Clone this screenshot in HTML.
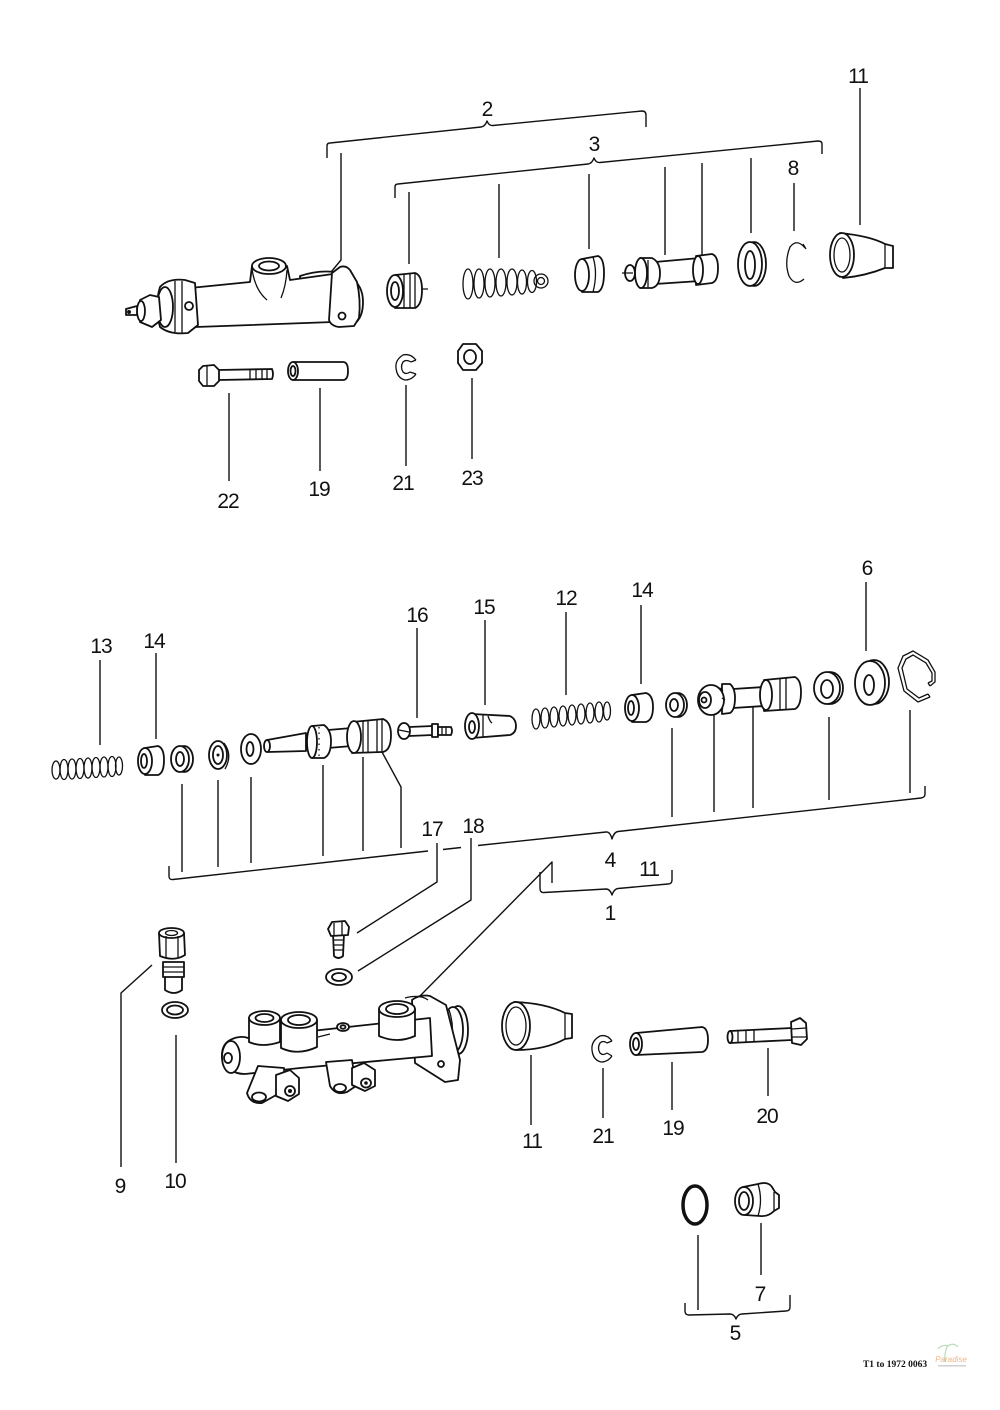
<!DOCTYPE html>
<html><head><meta charset="utf-8">
<style>
html,body{margin:0;padding:0;background:#fff;}
svg{display:block;}
.l{stroke:#111;stroke-width:1.4;fill:none;stroke-linejoin:round;}
.p{stroke:#111;stroke-width:1.8;fill:#fff;stroke-linejoin:round;}
.k{stroke:#111;stroke-width:1.3;fill:none;}
.t{font-family:"Liberation Sans",sans-serif;font-size:21px;fill:#111;text-anchor:middle;letter-spacing:-1px;}
</style></head><body>
<svg width="1000" height="1410" viewBox="0 0 1000 1410" xmlns="http://www.w3.org/2000/svg">
<rect width="1000" height="1410" fill="#fff"/>

<!-- ================= BRACKETS & LEADERS ================= -->
<g class="l">
<!-- bracket 2 -->
<path d="M327,158 L327,146 Q327,143 330,143 L481,127 Q485,126.5 487,121 Q489,126 493,125.5 L642,111 Q646,111 646,115 L646,127"/>
<!-- bracket 3 -->
<path d="M395,198 L395,187 Q395,184 398,184 L588,164 Q592,163.5 594,158 Q596,163 600,162.5 L818,141 Q822,141 822,144 L822,154"/>
<path d="M341,153 V260 L317,289"/>
<path d="M409,192 V264 M499,184 V258 M589,174 V249 M665,167 V255 M702,163 V255 M751,158 V233"/>
<path d="M794,183 V231 M860,88 V225"/>
<path d="M229,393 V481 M320,388 V471 M406,385 V466 M472,378 V459"/>

<!-- middle leaders -->
<path d="M100,660 V745 M156,653 V739 M417,628 V718 M485,620 V705 M566,612 V695 M641,605 V684 M866,582 V651"/>
<!-- bracket 4 -->
<path d="M169,866 V876 Q169,880 173,879.5 L428,851"/>
<path d="M443,849.5 L461,847.5"/>
<path d="M478,845.5 L606,832 Q610,831.5 612,839 Q614,832 618,831.5 L921,798 Q925,797.5 925,794 L925,786"/>
<path d="M182,784 V872 M218,780 V867 M251,777 V863 M323,765 V856 M363,757 V851"/>
<path d="M382,752 L401,787 V848"/>
<path d="M672,728 V817 M714,713 V812 M753,698 V808 M829,717 V800 M910,710 V793"/>
<path d="M437,843 V882 L357,933"/>
<path d="M471,838 V900 L358,971"/>
<!-- bracket 1 -->
<path d="M540,872 V888 Q540,893 544,892.5 L606,889 Q610,889 612,895 Q614,889 618,888.5 L668,884 Q672,884 672,880 V870"/>
<path d="M552,883 V862 L418,998"/>

<!-- bottom leaders -->
<path d="M152,965 L121,993 V1167"/>
<path d="M176,1035 V1163"/>
<path d="M531,1055 V1125 M603,1068 V1118 M672,1062 V1110 M768,1048 V1096"/>
<!-- bracket 5 -->
<path d="M685,1303 V1311 Q685,1315 689,1315 L730,1314 Q734,1314 736,1319 Q738,1314 742,1314 L786,1311 Q790,1311 790,1307 V1295"/>
<path d="M698,1235 V1310 M761,1223 V1275"/>
</g>

<!-- ================= LABELS ================= -->
<g class="t">
<text x="487" y="116">2</text>
<text x="594" y="151">3</text>
<text x="793" y="175">8</text>
<text x="858" y="83">11</text>
<text x="228" y="508">22</text>
<text x="319" y="496">19</text>
<text x="403" y="490">21</text>
<text x="472" y="485">23</text>
<text x="101" y="653">13</text>
<text x="154" y="648">14</text>
<text x="417" y="622">16</text>
<text x="484" y="614">15</text>
<text x="566" y="605">12</text>
<text x="642" y="597">14</text>
<text x="867" y="575">6</text>
<text x="432" y="836">17</text>
<text x="473" y="833">18</text>
<text x="610" y="867">4</text>
<text x="649" y="876">11</text>
<text x="610" y="920">1</text>
<text x="120" y="1193">9</text>
<text x="175" y="1188">10</text>
<text x="532" y="1148">11</text>
<text x="603" y="1143">21</text>
<text x="673" y="1135">19</text>
<text x="767" y="1123">20</text>
<text x="760" y="1301">7</text>
<text x="735" y="1340">5</text>
</g>

<!-- ================= TOP PARTS ================= -->
<!-- slave cylinder -->
<g>
<path class="p" d="M300,281 L300,276 Q318,270 334,272 L334,280 Z"/>
<path class="p" d="M190,288 L250,282 L252,266 L287,266 L290,280 L333,274 L333,322 L196,327 Z"/>
<ellipse class="p" cx="269" cy="266" rx="17" ry="8"/>
<ellipse class="p" cx="269" cy="266" rx="10" ry="4.5"/>
<path class="k" d="M252,269 Q255,290 267,300 M287,270 Q286,286 281,298"/>
<path class="p" d="M350,277 Q363,285 363,302 Q363,318 354,324 Z"/>
<path class="p" d="M332,273 L340,267 Q346,265 350,270 L357,282 Q361,300 359,318 L354,326 L339,327 Q331,326 329,320 Z"/>
<circle class="p" cx="342" cy="316" r="3.5"/>
<path class="p" d="M160,287 Q168,278 185,280 L195,283 L198,325 L188,333 Q170,335 160,327 Q154,307 160,287 Z"/>
<ellipse class="p" cx="165" cy="307" rx="8" ry="20"/>
<circle class="p" cx="189" cy="306" r="4"/>
<path class="k" d="M175,281 V332 M182,281 V333"/>
<path class="p" d="M140,300 L150,295 L159,297 L161,320 L152,327 L140,322 Z"/>
<ellipse class="p" cx="141" cy="311" rx="4" ry="10"/>
<path class="p" d="M126,309 L137,306 L137,315 L126,315 Z"/>
<circle cx="129" cy="312" r="2" fill="#111"/>
</g>

<!-- knurled cap -->
<g>
<path class="p" d="M395,275 L415,273 Q422,275 422,290 Q422,305 415,308 L395,308 Z"/>
<ellipse class="p" cx="395" cy="291" rx="8" ry="16"/>
<ellipse class="p" cx="395" cy="291" rx="4" ry="9"/>
<path class="k" d="M404,274 V308 M410,273 V308 M415,274 V307 M422,289 H428"/>
</g>

<!-- spring 2 -->
<g class="k" stroke-width="1.8">
<ellipse cx="468" cy="284" rx="5" ry="15"/>
<ellipse cx="479" cy="283.5" rx="5" ry="14.5"/>
<ellipse cx="490" cy="283" rx="5" ry="14"/>
<ellipse cx="501" cy="282.5" rx="5" ry="13.5"/>
<ellipse cx="512" cy="282" rx="5" ry="13"/>
<ellipse cx="522" cy="282" rx="4.5" ry="12"/>
<ellipse cx="532" cy="281.5" rx="4.5" ry="11"/>
<circle cx="541" cy="281" r="7"/>
<circle cx="541" cy="281" r="3.5"/>
</g>

<!-- cup 3 -->
<g>
<path class="p" d="M582,259 L598,256 Q604,258 604,273 Q604,289 598,292 L582,292 Z"/>
<ellipse class="p" cx="582" cy="275" rx="7" ry="16"/>
<path class="k" d="M593,257 Q598,273 593,292"/>
</g>

<!-- piston top -->
<g>
<path class="p" d="M655,262 L700,258 L700,281 L655,284 Z"/>
<path class="p" d="M696,256 L712,254 Q718,256 718,268 Q718,281 712,283 L696,285 Z"/>
<ellipse class="p" cx="698" cy="270" rx="5" ry="14"/>
<path class="p" d="M640,258 L652,258 Q660,262 660,273 Q660,286 652,288 L640,288 Z"/>
<ellipse class="p" cx="641" cy="273" rx="6" ry="15"/>
<ellipse class="p" cx="630" cy="273" rx="5" ry="8"/>
<path class="k" d="M622,273 H633 M648,260 V287"/>
</g>

<!-- ring -->
<g>
<ellipse class="p" cx="754" cy="264" rx="12" ry="22"/>
<ellipse class="p" cx="750" cy="264" rx="12" ry="22"/>
<ellipse class="p" cx="750" cy="265" rx="5" ry="14"/>
</g>

<!-- circlip 8 -->
<path class="k" stroke-width="2" d="M805,248 Q797,238 790,247 Q784,262 789,276 Q795,287 804,279"/>
<path class="k" d="M803,244 L806,249"/>

<!-- boot 11 top -->
<g>
<path class="p" d="M840,233 Q870,236 885,244 L893,246 L893,268 L885,268 Q865,276 843,278 Z"/>
<path class="k" d="M885,244 V268"/>
<ellipse class="p" cx="842" cy="255" rx="12" ry="22" stroke-width="2.6"/>
<ellipse class="k" cx="842" cy="255" rx="8" ry="17"/>
</g>

<!-- bolt 22 -->
<g>
<path class="p" d="M218,370 L272,369 Q274,374 272,379 L218,380 Z"/>
<path class="k" d="M250,369 V380 M256,369 V380 M262,369 V380 M267,369 V380"/>
<path class="p" d="M203,366 L214,365 L219,370 L219,381 L214,386 L203,386 L199,381 L199,370 Z"/>
<path class="k" d="M207,366 V386"/>
</g>
<!-- sleeve 19 -->
<g>
<path class="p" d="M293,362 L343,362 Q348,362 348,371 Q348,380 343,380 L293,380 Z"/>
<ellipse class="p" cx="293" cy="371" rx="5" ry="9"/>
<ellipse class="p" cx="293" cy="371" rx="2.5" ry="5"/>
</g>
<!-- washer 21 -->
<g>
<path class="k" stroke-width="2" d="M416,360 Q410,353 403,355 Q395,360 396,368 Q397,378 405,380 Q412,380 416,374"/>
<path class="k" stroke-width="1.6" d="M411,362 Q406,359 403,362 Q400,367 403,372 Q406,375 410,372"/>
<path class="k" d="M416,360 L411,362 M416,374 L410,372"/>
</g>
<!-- nut 23 -->
<g>
<path class="p" d="M463,344 L476,344 L482,351 L482,363 L476,370 L463,370 L458,363 L458,351 Z"/>
<ellipse class="p" cx="470" cy="357" rx="6" ry="7"/>
<path class="k" d="M463,344 L458,351"/>
</g>

<!-- ================= MIDDLE PARTS ================= -->
<!-- spring 13 -->
<g class="k" stroke-width="1.7">
<ellipse cx="56" cy="770" rx="4" ry="9"/>
<ellipse cx="64" cy="769.5" rx="4" ry="10"/>
<ellipse cx="72" cy="769" rx="4" ry="10"/>
<ellipse cx="80" cy="768.5" rx="4" ry="10"/>
<ellipse cx="88" cy="768" rx="4" ry="10"/>
<ellipse cx="96" cy="767.5" rx="4" ry="10"/>
<ellipse cx="104" cy="767" rx="4" ry="10"/>
<ellipse cx="112" cy="766.5" rx="4" ry="10"/>
<ellipse cx="119" cy="766" rx="3.5" ry="9"/>
</g>
<!-- cup 14 left -->
<g>
<path class="p" d="M145,748 L158,746 Q164,748 164,760 Q164,773 158,775 L145,775 Z"/>
<ellipse class="p" cx="145" cy="761" rx="7" ry="13"/>
<ellipse class="p" cx="144" cy="761" rx="3" ry="7"/>
</g>
<!-- ring -->
<g>
<ellipse class="p" cx="184" cy="759" rx="9" ry="13"/>
<ellipse class="p" cx="180" cy="759" rx="9" ry="13"/>
<ellipse class="p" cx="180" cy="759" rx="4" ry="7"/>
</g>
<!-- seal -->
<g>
<ellipse class="p" cx="218" cy="755" rx="9" ry="14"/>
<ellipse class="p" cx="218" cy="755" rx="5" ry="9"/>
<circle cx="218" cy="755" r="1.5" fill="#111"/>
<path class="k" d="M224,743 Q233,755 225,769"/>
</g>
<!-- washer -->
<g>
<ellipse class="p" cx="251" cy="749" rx="10" ry="15"/>
<ellipse class="p" cx="250" cy="749" rx="3.5" ry="7"/>
</g>
<!-- piston left -->
<g>
<path class="p" d="M267,740 L306,733 L306,751 L268,752 Z"/>
<ellipse class="p" cx="267" cy="746" rx="3" ry="6"/>
<path class="p" d="M328,730 L352,728 L352,746 L328,748 Z"/>
<path class="p" d="M312,726 L324,725 Q331,730 331,741 Q331,755 324,758 L312,758 Z"/>
<ellipse class="p" cx="312" cy="742" rx="5" ry="16"/>
<path class="k" stroke-dasharray="1.5 4" d="M319,727 V757"/>
<path class="p" d="M352,722 L383,719 Q391,722 391,735 Q391,750 383,752 L352,753 Z"/>
<ellipse class="p" cx="354" cy="737" rx="7" ry="16"/>
<path class="k" d="M363,721 V753 M368,720 V753 M377,720 V752 M382,719 V752"/>
</g>
<!-- screw 16 -->
<g>
<path class="p" d="M409,727 L433,726 L433,735 L409,736 Z"/>
<path class="p" d="M432,724 L438,724 L438,737 L432,737 Z"/>
<path class="p" d="M438,727 L451,727 Q453,731 451,735 L438,735 Z"/>
<path class="k" d="M442,727 V735 M446,727 V735"/>
<ellipse class="p" cx="404" cy="731" rx="6" ry="8"/>
<path class="k" d="M399,730 L409,732"/>
</g>
<!-- part 15 -->
<g>
<path class="p" d="M472,714 L510,716 Q516,719 516,726 Q516,733 510,735 L472,738 Z"/>
<path class="k" d="M483,715 V737 M488,716 Q490,722 492,723"/>
<ellipse class="p" cx="472" cy="726" rx="7" ry="13"/>
<ellipse class="p" cx="472" cy="727" rx="3" ry="6"/>
</g>
<!-- spring 12 -->
<g class="k" stroke-width="1.7">
<ellipse cx="536" cy="719" rx="4" ry="10"/>
<ellipse cx="545" cy="718" rx="4" ry="10"/>
<ellipse cx="554" cy="717" rx="4" ry="10"/>
<ellipse cx="563" cy="716" rx="4" ry="10"/>
<ellipse cx="572" cy="715" rx="4" ry="10"/>
<ellipse cx="581" cy="714" rx="4" ry="10"/>
<ellipse cx="590" cy="713" rx="4" ry="10"/>
<ellipse cx="599" cy="712" rx="4" ry="10"/>
<ellipse cx="607" cy="711" rx="3.5" ry="9"/>
</g>
<!-- cup 14 right -->
<g>
<path class="p" d="M632,695 L646,693 Q653,695 653,707 Q653,720 646,722 L632,722 Z"/>
<ellipse class="p" cx="632" cy="708" rx="7" ry="13"/>
<ellipse class="p" cx="631" cy="708" rx="3" ry="7"/>
</g>
<!-- ring right -->
<g>
<ellipse class="p" cx="678" cy="705" rx="9" ry="12"/>
<ellipse class="p" cx="675" cy="705" rx="9" ry="12"/>
<ellipse class="p" cx="674" cy="705" rx="4" ry="6"/>
</g>
<!-- piston right -->
<g>
<path class="p" d="M733,689 L764,687 L764,706 L733,708 Z"/>
<path class="p" d="M764,680 L795,677 Q801,680 801,692 Q801,706 795,709 L764,711 Z"/>
<ellipse class="p" cx="766" cy="695" rx="6" ry="15"/>
<path class="k" d="M780,678 V710 M786,678 V709"/>
<path class="p" d="M722,684 L730,684 Q735,688 735,698 Q735,710 730,713 L722,714 Z"/>
<ellipse class="p" cx="711" cy="700" rx="13" ry="15" stroke-width="3"/>
<ellipse class="p" cx="705" cy="700" rx="6" ry="8"/>
<circle class="p" cx="704" cy="700" r="2.5"/>
<path class="k" d="M720,688 L723,691 M720,711 L723,708 M722,698 L725,700"/>
</g>
<!-- seal right -->
<g>
<ellipse class="p" cx="830" cy="688" rx="13" ry="16"/>
<ellipse class="p" cx="827" cy="688" rx="13" ry="16" stroke-width="3"/>
<ellipse class="p" cx="827" cy="689" rx="6" ry="9"/>
</g>
<!-- washer 6 -->
<g>
<ellipse class="p" cx="874" cy="682" rx="15" ry="22"/>
<ellipse class="p" cx="870" cy="683" rx="15" ry="22"/>
<ellipse class="p" cx="869" cy="685" rx="5" ry="10"/>
</g>
<!-- circlip right -->
<g class="k" stroke-width="1.6">
<path d="M930,697 L918,702 L904,691 L898,668 L903,656 L913,651 L928,660 L935,672 L935,682 L930,686"/>
<path d="M928,694 L919,698 L907,689 L902,668 L906,659 L913,655 L926,663 L932,673 L932,681 L928,683"/>
<path d="M930,697 L928,694 M930,686 L928,683"/>
</g>

<!-- ================= BOTTOM PARTS ================= -->
<!-- fitting 9 -->
<g>
<path class="p" d="M165,976 L182,976 L182,990 Q174,996 165,990 Z"/>
<path class="p" d="M163,962 L184,962 L184,977 L163,977 Z"/>
<path class="k" d="M163,967 H184 M163,972 H184"/>
<path class="p" d="M159,933 L184,933 L185,955 Q174,962 160,956 Z"/>
<ellipse class="p" cx="171.5" cy="933" rx="12.5" ry="5"/>
<ellipse class="k" cx="171.5" cy="933" rx="6" ry="2.5"/>
<path class="k" d="M166,936 V958 M178,936 V958"/>
</g>
<!-- washer 10 -->
<g>
<ellipse class="p" cx="175" cy="1010" rx="13" ry="8"/>
<ellipse class="p" cx="175" cy="1010" rx="8" ry="4.5"/>
</g>
<!-- bolt 17 -->
<g>
<path class="p" d="M333,934 L344,934 L343,956 Q338,960 334,956 Z"/>
<path class="k" d="M333,940 H344 M333,945 H344 M333,950 H343"/>
<path class="p" d="M332,922 L345,921 L349,927 L348,935 L331,936 L328,929 Z"/>
<path class="k" d="M334,923 V935 M342,922 V935"/>
</g>
<!-- washer 18 -->
<g>
<ellipse class="p" cx="339" cy="977" rx="13" ry="8"/>
<ellipse class="p" cx="339" cy="977" rx="7" ry="4"/>
</g>

<!-- master cylinder -->
<g>
<!-- rear ring -->
<ellipse class="p" cx="458" cy="1030" rx="10" ry="24"/>
<ellipse class="p" cx="453" cy="1030" rx="10" ry="23"/>
<path class="k" d="M449,1010 Q456,1030 449,1050"/>
<!-- flange -->
<path class="p" d="M412,1000 Q420,994 430,996 L446,1005 L460,1060 L458,1080 L445,1082 L415,1063 Z"/>
<circle class="p" cx="441" cy="1064" r="3"/>
<!-- body -->
<path class="p" d="M230,1040 Q240,1035 248,1038 L430,1018 L432,1056 L300,1068 L245,1074 Q228,1074 222,1058 Q221,1045 230,1040 Z"/>
<ellipse class="p" cx="231" cy="1057" rx="9" ry="16"/>
<ellipse class="p" cx="228" cy="1058" rx="4" ry="5"/>
<!-- lower outlet 1 -->
<path class="p" d="M258,1066 L247,1093 Q250,1104 262,1103 L285,1090 L284,1068 Z"/>
<ellipse class="p" cx="259" cy="1097" rx="7" ry="4.5"/>
<path class="p" d="M276,1075 L290,1070 L299,1078 L299,1094 L288,1101 L276,1096 Z"/>
<ellipse class="p" cx="290" cy="1091" rx="5" ry="5"/>
<circle cx="290" cy="1091" r="2" fill="#111"/>
<!-- lower outlet 2 -->
<path class="p" d="M326,1062 L330,1086 Q336,1096 347,1092 L356,1086 L352,1060 Z"/>
<ellipse class="p" cx="340" cy="1088" rx="6" ry="4"/>
<path class="p" d="M352,1068 L364,1063 L375,1070 L375,1086 L365,1091 L352,1085 Z"/>
<ellipse class="p" cx="366" cy="1083" rx="5" ry="4.5"/>
<circle cx="366" cy="1083" r="1.8" fill="#111"/>
<!-- boss 1 -->
<path class="p" d="M249,1018 L249,1042 Q262,1048 280,1042 L280,1018 Z"/>
<ellipse class="p" cx="264.5" cy="1018" rx="15.5" ry="7"/>
<ellipse class="p" cx="264.5" cy="1018" rx="9" ry="4"/>
<!-- boss 2 -->
<path class="p" d="M281,1020 L281,1048 Q298,1056 317,1047 L317,1020 Z"/>
<ellipse class="p" cx="299" cy="1020" rx="18" ry="8"/>
<ellipse class="p" cx="299" cy="1020" rx="11" ry="5"/>
<!-- nipple -->
<ellipse class="p" cx="343" cy="1027" rx="6" ry="4"/>
<ellipse class="p" cx="343" cy="1027" rx="2.5" ry="1.8"/>
<!-- boss 3 -->
<path class="p" d="M379,1009 L379,1036 Q397,1044 415,1036 L415,1009 Z"/>
<ellipse class="p" cx="397" cy="1009" rx="18" ry="8"/>
<ellipse class="p" cx="397" cy="1009" rx="11" ry="5"/>
<path class="k" d="M318,1037 L330,1034 M405,998 Q420,994 428,1000"/>
</g>

<!-- boot 11 bottom -->
<g>
<path class="p" d="M514,1002 Q545,1003 565,1013 L572,1014 L572,1038 L565,1039 Q545,1050 516,1050 Z"/>
<path class="k" d="M565,1013 V1039"/>
<ellipse class="p" cx="516" cy="1026" rx="14" ry="24" stroke-width="2.8"/>
<ellipse class="k" cx="516" cy="1026" rx="10" ry="19"/>
</g>
<!-- washer 21 bottom -->
<g>
<path class="k" stroke-width="2" d="M612,1041 Q607,1034 600,1036 Q591,1041 592,1050 Q593,1060 601,1062 Q608,1062 612,1056"/>
<path class="k" stroke-width="1.6" d="M607,1043 Q603,1040 600,1043 Q597,1048 600,1053 Q603,1056 607,1053"/>
<path class="k" d="M612,1041 L607,1043 M612,1056 L607,1053"/>
</g>
<!-- sleeve 19 bottom -->
<g>
<path class="p" d="M636,1033 L702,1027 Q708,1028 708,1040 Q708,1051 702,1052 L636,1055 Z"/>
<ellipse class="p" cx="636" cy="1044" rx="6" ry="11"/>
<ellipse class="p" cx="636" cy="1044" rx="3" ry="6"/>
</g>
<!-- bolt 20 -->
<g>
<path class="p" d="M730,1031 L792,1028 L792,1040 L730,1043 Z"/>
<ellipse class="p" cx="730" cy="1037" rx="2.5" ry="6"/>
<path class="k" d="M738,1031 V1043 M746,1030 V1042 M754,1030 V1042"/>
<path class="p" d="M791,1022 L800,1018 L806,1023 L807,1039 L801,1045 L792,1043 Z"/>
<path class="k" d="M792,1029 L806,1028 M792,1037 L806,1037"/>
</g>

<!-- ring 5 -->
<ellipse cx="695" cy="1205" rx="12" ry="19" fill="none" stroke="#111" stroke-width="3.5"/>
<!-- part 7 -->
<g>
<path class="p" d="M743,1187 L758,1184 Q768,1181 772,1187 L775,1192 L779,1195 L779,1208 L774,1211 Q768,1217 760,1216 L745,1215 Z"/>
<path class="k" d="M758,1184 Q763,1200 758,1216 M774,1192 V1211"/>
<ellipse class="p" cx="744" cy="1201" rx="9" ry="14"/>
<ellipse class="p" cx="744" cy="1201" rx="5" ry="9"/>
</g>

<!-- footer -->
<text x="895" y="1367" text-anchor="middle" style="font-family:'Liberation Serif',serif;font-weight:bold;font-size:9.5px;fill:#111;">T1 to 1972 0063</text>
<g opacity="0.7">
<path d="M948,1345 Q944,1352 945,1362" stroke="#9c9" stroke-width="1.2" fill="none"/>
<path d="M948,1346 Q942,1344 938,1349 M948,1346 Q953,1342 958,1347" stroke="#9c9" stroke-width="1.2" fill="none"/>
<text x="951" y="1362" text-anchor="middle" style="font-family:'Liberation Sans',sans-serif;font-size:8px;fill:#e99650;font-style:italic;">Paradise</text>
<rect x="938" y="1365" width="28" height="1.5" fill="#bbb"/>
</g>
</svg>
</body></html>
